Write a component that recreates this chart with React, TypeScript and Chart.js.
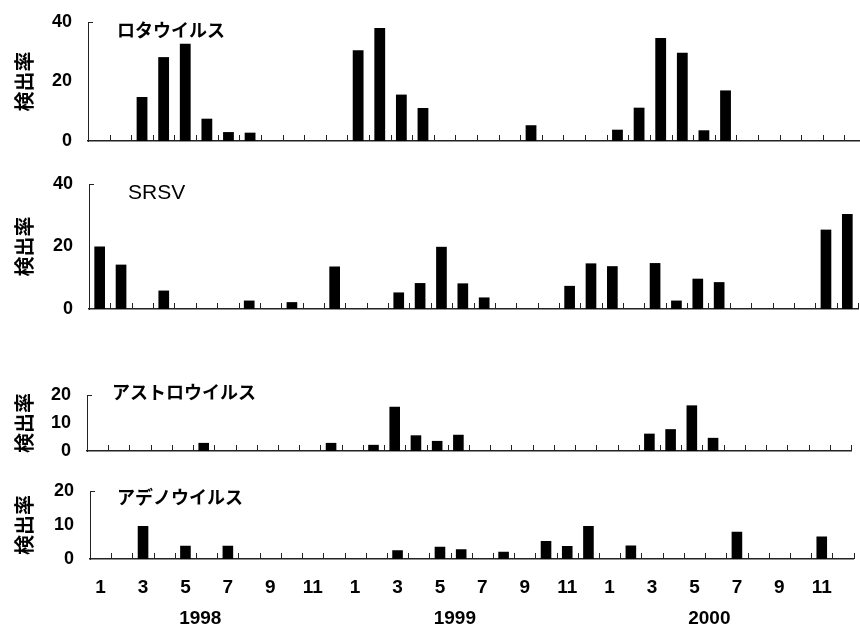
import { useEffect, useRef } from "react";
import { Chart, registerables } from "chart.js";

Chart.register(...registerables);

// ---- data ----
const MONTHS: number[] = [
  1, 2, 3, 4, 5, 6, 7, 8, 9, 10, 11, 12,
  1, 2, 3, 4, 5, 6, 7, 8, 9, 10, 11, 12,
  1, 2, 3, 4, 5, 6, 7, 8, 9, 10, 11, 12,
];
const YEARS: string[] = ["1998", "1999", "2000"];
const Y_TITLE = "検出率";

const ROTA: (number | null)[] = [
  null, null, 14.8, 28.2, 32.7, 7.5, 3.0, 2.8, null, null, null, null,
  30.5, 38, 15.6, 11.1, null, null, null, null, 5.3, null, null, null,
  3.8, 11.2, 34.6, 29.7, 3.6, 17, null, null, null, null, null, null,
];
const SRSV: (number | null)[] = [
  20, 14.2, null, 5.9, null, null, null, 2.7, null, 2.2, null, 13.6,
  null, null, 5.3, 8.3, 19.9, 8.2, 3.7, null, null, null, 7.4, 14.6,
  13.7, null, 14.7, 2.7, 9.7, 8.6, null, null, null, null, 25.4, 30.4,
];
const ASTRO: (number | null)[] = [
  null, null, null, null, null, 2.9, null, null, null, null, null, 2.9,
  null, 2.2, 15.8, 5.6, 3.6, 5.8, null, null, null, null, null, null,
  null, null, 6.2, 7.8, 16.3, 4.7, null, null, null, null, null, null,
];
const ADENO: (number | null)[] = [
  null, null, 9.7, null, 3.9, null, 3.9, null, null, null, null, null,
  null, null, 2.6, null, 3.6, 2.9, null, 2.1, null, 5.3, 3.8, 9.7,
  null, 4.0, null, null, null, null, 8.0, null, null, null, 6.6, null,
];

// ---- panel layout / style ----
type Panel = {
  name: string;
  data: (number | null)[];
  max: number;
  step: number;
  top: number;
  width: number;
  height: number;
  padTop: number;
  padRight: number;
  axisLeft: number;
  nameDx: number;
  nameDy: number;
  nameFont: string;
  showX: boolean;
};

const JP = "'Noto Sans CJK JP', 'Noto Sans', sans-serif";
const NUM = "'Liberation Sans', Arial, sans-serif";

const PANELS: Panel[] = [
  { name: "ロタウイルス", data: ROTA, max: 40, step: 20, top: 0, width: 870, height: 153, padTop: 22, padRight: 4, axisLeft: 88, nameDx: 29, nameDy: 8, nameFont: `bold 18px ${JP}`, showX: false },
  { name: "SRSV", data: SRSV, max: 40, step: 20, top: 160, width: 860, height: 161, padTop: 24, padRight: 2, axisLeft: 89, nameDx: 39, nameDy: 9, nameFont: `21px ${NUM}`, showX: false },
  { name: "アストロウイルス", data: ASTRO, max: 20, step: 10, top: 370, width: 860, height: 93, padTop: 25, padRight: 9, axisLeft: 87, nameDx: 25, nameDy: -3, nameFont: `bold 18px ${JP}`, showX: false },
  { name: "アデノウイルス", data: ADENO, max: 20, step: 10, top: 465, width: 860, height: 165, padTop: 26, padRight: 2, axisLeft: 90, nameDx: 27, nameDy: 6, nameFont: `bold 18px ${JP}`, showX: true },
];

const AXIS_COLOR = "#222";

const decorPlugin = {
  id: "decor",
  afterDraw(chart: any, _args: any, opts: any) {
    const p: Panel = opts.panel;
    const ctx = chart.ctx as CanvasRenderingContext2D;
    const xs = chart.scales.x;
    const ys = chart.scales.y;
    const area = chart.chartArea;
    ctx.save();
    ctx.strokeStyle = AXIS_COLOR;
    ctx.lineWidth = 1;
    // inner tick marks at category boundaries
    for (let i = 1; i <= MONTHS.length; i++) {
      const px = Math.round(xs.getPixelForValue(i - 0.5)) + 0.5;
      ctx.beginPath();
      ctx.moveTo(px, area.bottom);
      ctx.lineTo(px, area.bottom - 6);
      ctx.stroke();
    }
    // cap at top of y axis
    const yTop = Math.round(ys.getPixelForValue(p.max)) + 0.5;
    ctx.beginPath();
    ctx.moveTo(area.left, yTop);
    ctx.lineTo(area.left + 5, yTop);
    ctx.stroke();
    // panel name
    ctx.fillStyle = "#000";
    ctx.font = p.nameFont;
    ctx.textAlign = "left";
    ctx.textBaseline = "middle";
    ctx.fillText(p.name, area.left + p.nameDx, ys.getPixelForValue(p.max) + p.nameDy);
    // years
    if (p.showX) {
      ctx.font = `bold 19px ${NUM}`;
      ctx.textAlign = "center";
      YEARS.forEach((yr, k) => {
        ctx.fillText(yr, xs.getPixelForValue(12 * k + 4.7), area.bottom + 60);
      });
    }
    ctx.restore();
  },
};

function PanelChart({ panel }: { panel: Panel }) {
  const ref = useRef<HTMLCanvasElement | null>(null);
  useEffect(() => {
    if (!ref.current) return;
    const chart = new Chart(ref.current, {
      type: "bar",
      data: {
        labels: MONTHS.map((m) => String(m)),
        datasets: [
          {
            data: panel.data as any,
            backgroundColor: "#000",
            borderWidth: 0,
            barPercentage: 0.5,
            categoryPercentage: 1,
          },
        ],
      },
      options: {
        animation: false,
        responsive: false,
        devicePixelRatio: 1,
        layout: {
          padding: { top: panel.padTop, right: panel.padRight, left: 0, bottom: panel.showX ? 0 : 12 },
        },
        plugins: {
          legend: { display: false },
          tooltip: { enabled: false },
          decor: { panel },
        } as any,
        scales: {
          x: {
            offset: true,
            grid: { display: false, drawTicks: false },
            border: { display: true, color: AXIS_COLOR, width: 1.5 },
            ticks: {
              display: panel.showX,
              autoSkip: false,
              maxRotation: 0,
              padding: 17,
              color: "#000",
              font: { family: NUM, size: 19, weight: "bold" },
              callback: (_v: any, i: number) => (MONTHS[i] % 2 === 1 ? String(MONTHS[i]) : ""),
            },
            afterFit: (s: any) => {
              s.height = panel.showX ? 71 : 0;
            },
          },
          y: {
            min: 0,
            max: panel.max,
            grid: { display: false, drawTicks: false },
            border: { display: true, color: AXIS_COLOR, width: 1 },
            ticks: {
              stepSize: panel.step,
              padding: 16,
              color: "#000",
              font: { family: NUM, size: 18, weight: "bold" },
            },
            title: {
              display: true,
              text: Y_TITLE,
              color: "#000",
              font: { family: JP, size: 20, weight: "bold" },
              padding: { top: 12, bottom: 0 },
            },
            afterFit: (s: any) => {
              s.width = panel.axisLeft;
              s.paddingTop = 0;
              s.paddingBottom = 0;
            },
          },
        },
      },
      plugins: [decorPlugin],
    });
    return () => chart.destroy();
  }, [panel]);
  return (
    <div style={{ position: "absolute", left: 0, top: panel.top, width: panel.width, height: panel.height }}>
      <canvas ref={ref} width={panel.width} height={panel.height} style={{ display: "block" }} />
    </div>
  );
}

export default function App() {
  return (
    <div
      style={{
        position: "absolute",
        left: 0,
        top: 0,
        width: 860,
        height: 630,
        overflow: "hidden",
        background: "#fff",
      }}
    >
      {PANELS.map((p) => (
        <PanelChart key={p.name} panel={p} />
      ))}
    </div>
  );
}
